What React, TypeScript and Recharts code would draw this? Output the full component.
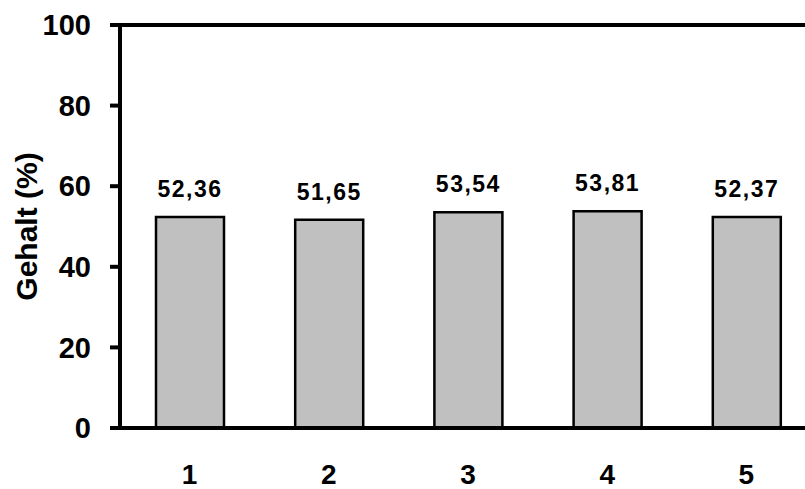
import { BarChart, Bar, XAxis, YAxis, LabelList, ReferenceLine } from 'recharts';

const samples = ['1', '2', '3', '4', '5'];
const content = [52.36, 51.65, 53.54, 53.81, 52.37];
const yTicks = [0, 20, 40, 60, 80, 100];

const data = samples.map((name, i) => ({ name, gehalt: content[i] }));

const font = '"Liberation Sans", Arial, sans-serif';

// rotated axis title, centred on the plot height
const YTitle = ({ viewBox }: any) => {
    const cy = viewBox.y + viewBox.height / 2;
    return (
        <text
            x={37}
            y={cy}
            transform={`rotate(-90, 37, ${cy})`}
            textAnchor="middle"
            fill="#000"
            fontSize={30}
            fontWeight={700}
        >
            Gehalt (%)
        </text>
    );
};

const App = () => {
    return (
        <div style={{ position: 'absolute', left: 0, top: 0, width: 805, height: 489, overflow: 'hidden', background: '#fff' }}>
            <BarChart
                width={830}
                height={489}
                data={data}
                margin={{ top: 25, right: 14, left: 0, bottom: 0 }}
                barSize={68}
                style={{ fontFamily: font }}
            >
                <XAxis
                    dataKey="name"
                    height={61}
                    tickLine={false}
                    axisLine={{ stroke: '#000', strokeWidth: 4 }}
                    tickMargin={30}
                    tick={{ fill: '#000', fontSize: 28, fontWeight: 700 }}
                />
                <YAxis
                    width={120}
                    domain={[0, 100]}
                    ticks={yTicks}
                    tickSize={10}
                    tickMargin={19}
                    axisLine={{ stroke: '#000', strokeWidth: 4 }}
                    tickLine={{ stroke: '#000', strokeWidth: 4 }}
                    tick={{ fill: '#000', fontSize: 29, fontWeight: 700 }}
                    label={<YTitle />}
                />
                <ReferenceLine y={100} stroke="#000" strokeWidth={4} />
                <Bar dataKey="gehalt" fill="#c0c0c0" stroke="#000" strokeWidth={2.5} isAnimationActive={false}>
                    <LabelList
                        dataKey="gehalt"
                        position="top"
                        offset={20}
                        formatter={(v: any) => Number(v).toFixed(2).replace('.', ',')}
                        style={{ fill: '#000', fontSize: 23, fontWeight: 700, letterSpacing: 1.5 }}
                    />
                </Bar>
            </BarChart>
        </div>
    );
};

export default App;
